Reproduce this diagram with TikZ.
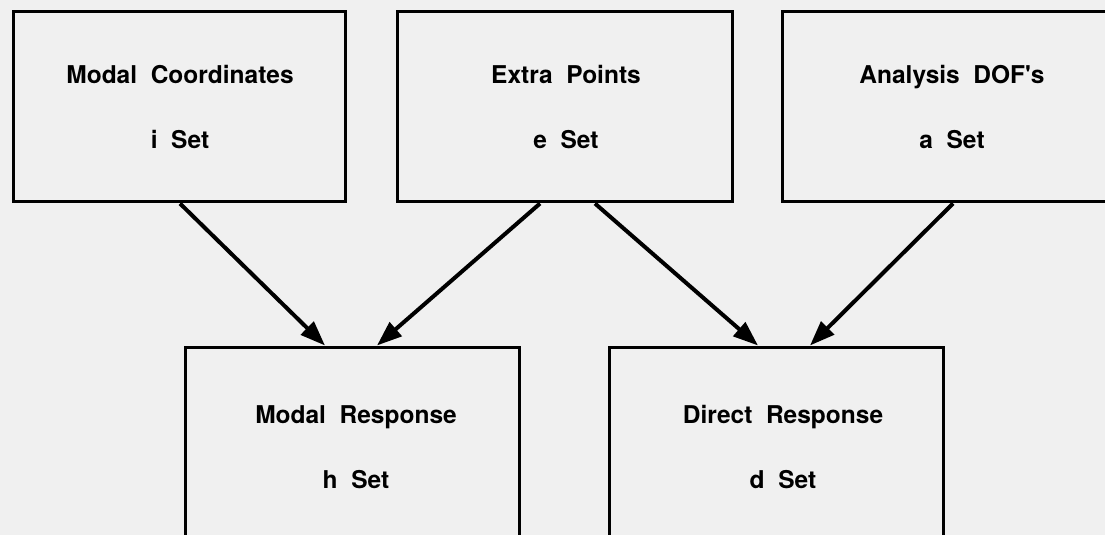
\documentclass[tikz,border=0pt]{standalone}
\usepackage{fontspec}
\setmainfont{TeX Gyre Heros}
\usetikzlibrary{arrows.meta}
\definecolor{bg}{RGB}{240,240,240}
\begin{document}
\begin{tikzpicture}[x=1pt,y=1pt,
  box/.style={draw=black, line width=3pt, rectangle, inner sep=0pt},
  lbl/.style={font=\fontsize{24.5}{29}\selectfont\bfseries, anchor=base, inner sep=0pt},
  arr/.style={line width=4pt, -{Triangle[length=25pt,width=18pt]}}]
\useasboundingbox (0,0) rectangle (1105,-535);
\fill[bg] (0,0) rectangle (1105,-535);
\begin{scope}
\clip (0,0) rectangle (1105,-535);
% top boxes
\node[box, minimum width=332pt, minimum height=189pt] (A) at (179,-106.5) {};
\node[box, minimum width=335pt, minimum height=189pt] (B) at (564.5,-106.5) {};
\node[box, minimum width=338pt, minimum height=189pt] (C) at (951,-106.5) {};
% bottom boxes
\node[box, minimum width=334pt, minimum height=198pt] (H) at (352,-446) {};
\node[box, minimum width=334pt, minimum height=198pt] (D) at (776,-446) {};
% labels
\node[lbl] (A1) at (180,-84) {Modal\ \ Coordinates};
\node[lbl] (A2) at (180,-148) {i\ \ Set};
\node[lbl] (B1) at (566,-84) {Extra\ \ Points};
\node[lbl] (B2) at (566,-148) {e\ \ Set};
\node[lbl] (C1) at (952,-84) {Analysis\ \ DOF\textquotesingle s};
\node[lbl] (C2) at (952,-148) {a\ \ Set};
\node[lbl] (H1) at (356,-423) {Modal\ \ Response};
\node[lbl] (H2) at (356,-488) {h\ \ Set};
\node[lbl] (D1) at (783,-423) {Direct\ \ Response};
\node[lbl] (D2) at (783,-488) {d\ \ Set};
% arrows
\draw[arr] ([xshift=1pt,yshift=-1pt]A.south) -- ([xshift=-27pt]H.north);
\draw[arr] ([xshift=-24.5pt,yshift=-1pt]B.south) -- ([xshift=25pt]H.north);
\draw[arr] ([xshift=30.5pt,yshift=-1pt]B.south) -- ([xshift=-18pt]D.north);
\draw[arr] ([xshift=2pt,yshift=-1pt]C.south) -- ([xshift=34pt]D.north);
\end{scope}
\end{tikzpicture}
\end{document}
